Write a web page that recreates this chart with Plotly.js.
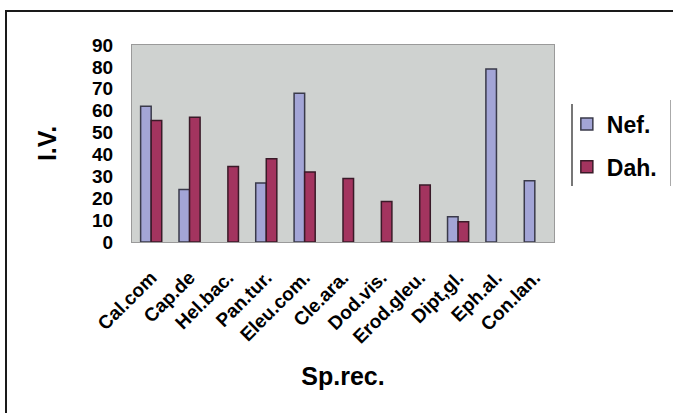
<!DOCTYPE html>
<html>
<head>
<meta charset="utf-8">
<script src="https://cdn.plot.ly/plotly-3.0.1.min.js"></script>
<style>
  html, body { margin: 0; padding: 0; background: #ffffff; }
  #wrap { position: relative; width: 673px; height: 413px; overflow: hidden; }
  #chart { position: absolute; left: 0; top: 0; width: 673px; height: 413px; }
  /* outer frame: only the top and left rules */
  #frameTop { position: absolute; left: 6px; top: 10px; width: 667px; height: 2px; background: #1a1a1a; }
  #frameLeft { position: absolute; left: 5px; top: 10px; width: 2px; height: 403px; background: #1a1a1a; }
  /* side rules of the legend box */
  #legLeft { position: absolute; left: 571px; top: 104px; width: 2px; height: 82px; background: #777; }
  #legRight { position: absolute; left: 670px; top: 100px; width: 1px; height: 86px; background: #aaa; }
</style>
</head>
<body>
<div id="wrap">
  <div id="chart"></div>
  <div id="frameTop"></div>
  <div id="frameLeft"></div>
  <div id="legLeft"></div>
  <div id="legRight"></div>
</div>
<script>
// Species (abbreviated) on the x axis
const species = ["Cal.com", "Cap.de", "Hel.bac.", "Pan.tur.", "Eleu.com.", "Cle.ara.",
                 "Dod.vis.", "Erod.gleu.", "Dipt,gl.", "Eph.al.", "Con.lan."];

// Importance values (I.V.) per site; null = species not recorded there
const nefValues = [62, 24, null, 27, 68, null, null, null, 11.5, 79, 28];
const dahValues = [55.5, 57, 34.5, 38, 32, 29, 18.5, 26, 9.3, null, null];

const seriesNames = ["Nef.", "Dah."];
const yTicks = [0, 10, 20, 30, 40, 50, 60, 70, 80, 90];

const fontFamily = '"Liberation Sans", Arial, sans-serif';

const traces = [
  {
    type: 'bar', name: seriesNames[0], x: species, y: nefValues, legendgroup: 'nef',
    marker: { color: '#a3a5d6', line: { color: '#3a3a4a', width: 1.5 } },
    hoverinfo: 'x+y'
  },
  {
    type: 'bar', name: seriesNames[1], x: species, y: dahValues, legendgroup: 'dah',
    marker: { color: '#a3345f', line: { color: '#3a1a28', width: 1.5 } },
    hoverinfo: 'x+y'
  }
];

const layout = {
  width: 673, height: 413,
  margin: { l: 132, r: 118, t: 45, b: 171 },
  paper_bgcolor: '#ffffff',
  plot_bgcolor: '#cfd2d0',
  barmode: 'group',
  bargap: 0.45,
  bargroupgap: 0,
  font: { family: fontFamily, color: '#000000' },
  xaxis: {
    type: 'category',
    tickangle: -45,
    tickfont: { family: fontFamily, size: 19, weight: 'bold', color: '#000' },
    ticks: '',
    ticklabelstandoff: 16,
    showline: true, linecolor: '#9a9a9a', linewidth: 1, mirror: true,
    title: { text: 'Sp.rec.', font: { family: fontFamily, size: 25, weight: 'bold', color: '#000' }, standoff: 20 },
    automargin: false
  },
  yaxis: {
    range: [0, 90],
    tickvals: yTicks,
    tickfont: { family: fontFamily, size: 19, weight: 'bold', color: '#000' },
    ticks: '',
    ticklabelstandoff: 14,
    showgrid: false,
    zeroline: false,
    showline: true, linecolor: '#9a9a9a', linewidth: 1, mirror: true,
    title: { text: 'I.V.', font: { family: fontFamily, size: 25, weight: 'bold', color: '#000' }, standoff: 28 },
    automargin: false
  },
  showlegend: true,
  legend: {
    x: 1.028, xanchor: 'left',
    y: 0.49, yanchor: 'middle',
    traceorder: 'grouped',
    tracegroupgap: 10,
    font: { family: fontFamily, size: 23, weight: 'bold', color: '#000' },
    bgcolor: 'rgba(0,0,0,0)',
    borderwidth: 0,
    itemclick: false, itemdoubleclick: false
  }
};

Plotly.newPlot('chart', traces, layout, { displayModeBar: false, staticPlot: true });
</script>
</body>
</html>
